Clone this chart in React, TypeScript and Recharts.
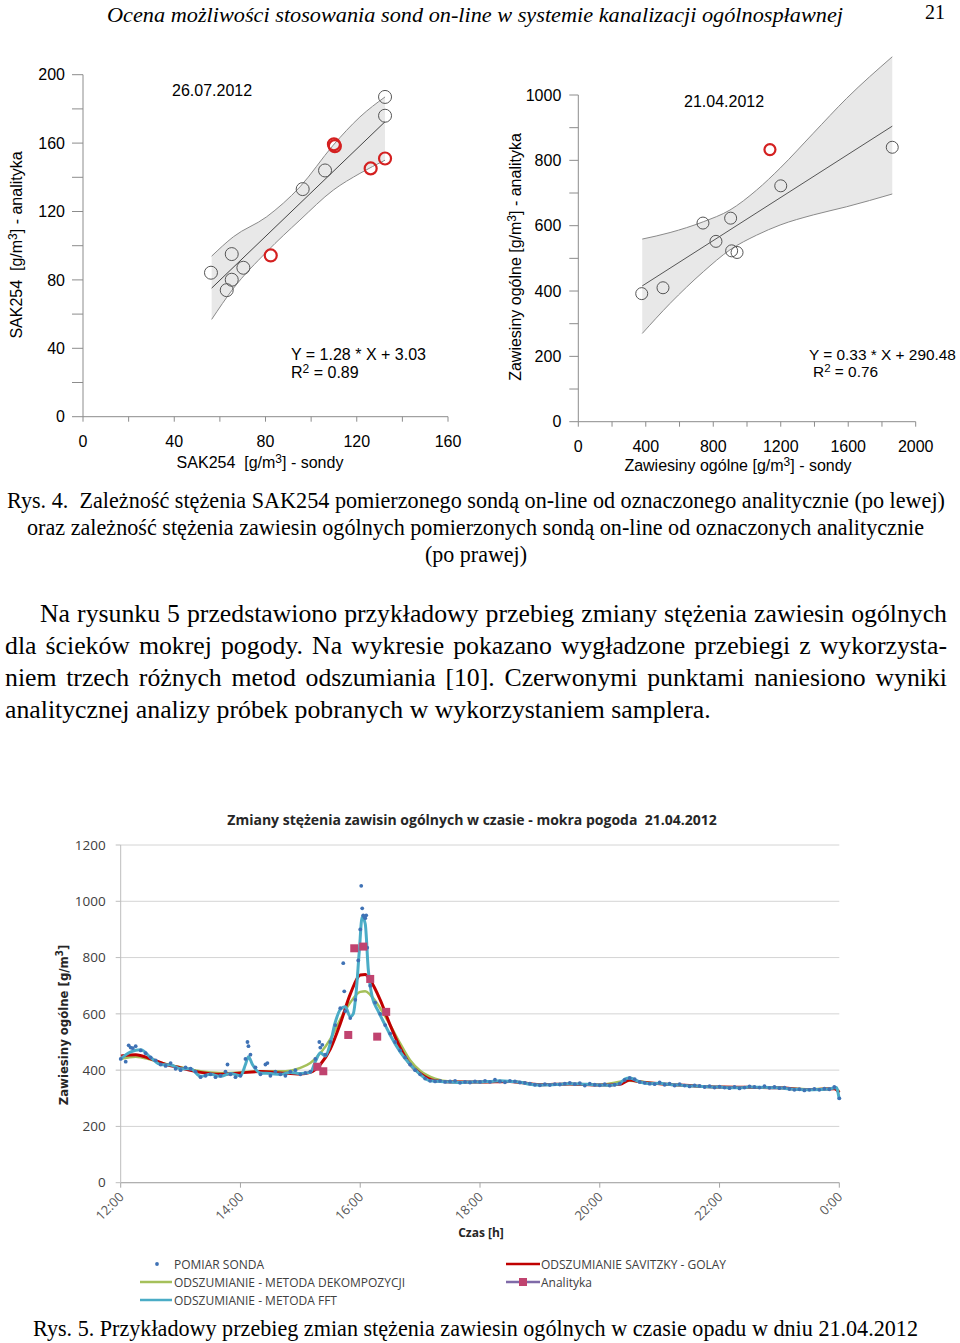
import React, { useLayoutEffect, useRef, useState } from 'react'
import { ComposedChart, Line, Area, Scatter, XAxis, YAxis, CartesianGrid, ReferenceLine } from 'recharts'

// ---- Rys. 4 (left): SAK254, probe vs lab
const sakProbeGray = [56.1, 65.2, 70.3, 65.2, 63, 96.3, 106.1, 132.4, 132.4]
const sakLabGray = [84.2, 95.1, 87.1, 80.1, 74, 133.1, 144, 187, 176]
const sakProbeRed = [82.3, 110.0, 110.4, 126.1, 132.4]
const sakLabRed = [94.3, 159.3, 158.2, 145.2, 151]
const sakBandX = [56.4, 65.9, 80.5, 95.1, 109.7, 121.4, 132.4]
const sakBandHi = [93.9, 105.2, 116.9, 134.4, 158.8, 175.3, 187]
const sakBandLo = [56.9, 75, 96.4, 115, 132.5, 142.3, 150]
const sakFitX = [56.4, 132.4]
const sakFitY = [75.2, 172.5]

// ---- Rys. 4 (right): zawiesiny ogolne, probe vs lab
const tssProbeGray = [376, 502, 739, 816, 903, 909, 941, 1200, 1861]
const tssLabGray = [392, 410, 608, 552, 623, 523, 518, 722, 840]
const tssProbeRed = [1136]
const tssLabRed = [833]
const tssBandX = [379, 544, 741, 899, 1057, 1196, 1393, 1591, 1861]
const tssBandHi = [559, 579, 612, 648, 709, 776, 883, 990, 1117]
const tssBandLo = [270, 362, 459, 526, 571, 602, 633, 658, 697]
const tssFitX = [379, 1861]
const tssFitY = [415.6, 904.6]

// ---- Rys. 5: time series 21.04.2012
const SONDA_START_H = 12
const SONDA_STEP_MIN = 5
const sondaVal = [
  440, 430, 480, 485, 470, 460, 445, 435, 420, 415, 425, 405,
  400, 410, 405, 395, 375, 380, 385, 375, 380, 395, 385, 375,
  380, 440, 455, 410, 385, 420, 380, 395, 385, 380, 395, 400,
  385, 390, 395, 440, 480, 455, 500, 560, 620, 610, 585, 650,
  900, 940, 700, 640, 600, 560, 530, 500, 470, 445, 420, 400,
  385, 370, 362, 360, 362, 358, 360, 362, 355, 358, 356, 360,
  358, 362, 358, 366, 360, 357, 362, 360, 356, 355, 352, 348,
  346, 350, 347, 350, 349, 352, 355, 350, 354, 345, 352, 348,
  346, 350, 345, 348, 352, 365, 372, 368, 358, 355, 352, 350,
  356, 348, 352, 345, 350, 345, 342, 346, 344, 340, 343, 338,
  341, 338, 336, 340, 335, 338, 342, 340, 338, 343, 337, 340,
  336, 338, 333, 330, 332, 328, 330, 333, 330, 334, 332, 340,
  300,
]
const sondaExtraTime = ['12:08', '12:12', '13:47', '14:07', '14:08', '14:27', '15:19', '15:22', '15:43', '15:44', '15:58', '16:01', '16:02', '16:03', '16:04', '16:06', '16:07']
const sondaExtraVal = [488, 478, 420, 500, 485, 425, 500, 490, 780, 680, 790, 1055, 975, 950, 945, 950, 835]

const fftTime = [
  '12:00', '12:10', '12:20', '12:30', '12:40', '12:50', '13:00', '13:10', '13:20', '13:30', '13:40', '13:50',
  '14:00', '14:05', '14:08', '14:12', '14:20', '14:30', '14:40', '14:50', '15:00', '15:10', '15:15', '15:20',
  '15:25', '15:30', '15:35', '15:40', '15:45', '15:50', '15:53', '15:56', '15:59', '16:02', '16:05', '16:08',
  '16:12', '16:18', '16:25', '16:30', '16:40', '16:50', '17:00', '17:10', '17:20', '17:30', '17:40', '17:50',
  '18:00', '18:10', '18:20', '18:30', '18:40', '18:50', '19:00', '19:10', '19:20', '19:30', '19:40', '19:50',
  '20:00', '20:10', '20:20', '20:25', '20:30', '20:40', '20:50', '21:00', '21:10', '21:20', '21:30', '21:40',
  '21:50', '22:00', '22:10', '22:20', '22:30', '22:40', '22:50', '23:00', '23:10', '23:20', '23:30', '23:40',
  '23:50', '23:57', '24:00',
]
const fftVal = [
  440, 465, 472, 445, 420, 418, 405, 405, 378, 385, 378, 388,
  380, 420, 448, 420, 390, 388, 385, 392, 388, 392, 430, 462,
  450, 495, 570, 615, 625, 590, 600, 680, 820, 945, 920, 760,
  660, 610, 560, 525, 465, 420, 385, 362, 360, 358, 356, 358,
  358, 360, 362, 360, 357, 350, 347, 348, 350, 352, 351, 349,
  347, 346, 352, 368, 372, 358, 352, 353, 349, 347, 344, 343,
  340, 340, 337, 337, 340, 339, 338, 337, 333, 331, 330, 331,
  333, 338, 295,
]

const sgTime = [
  '12:00', '12:15', '12:30', '12:45', '13:00', '13:20', '13:40', '14:00', '14:20', '14:40', '15:00', '15:10',
  '15:20', '15:30', '15:40', '15:50', '16:00', '16:05', '16:10', '16:20', '16:30', '16:40', '16:50', '17:00',
  '17:15', '17:30', '18:00', '18:30', '19:00', '19:30', '20:00', '20:20', '20:30', '20:40', '21:00', '21:30',
  '22:00', '22:30', '23:00', '23:30', '23:55', '24:00',
]
const sgVal = [
  450, 455, 440, 420, 408, 392, 385, 390, 395, 390, 386, 392,
  420, 475, 565, 670, 738, 740, 720, 650, 560, 480, 420, 388,
  362, 358, 358, 360, 348, 351, 347, 350, 365, 358, 352, 345,
  340, 339, 337, 331, 334, 320,
]

const dekTime = [
  '12:00', '12:15', '12:30', '12:45', '13:00', '13:20', '13:40', '14:00', '14:20', '14:40', '14:50', '15:00',
  '15:10', '15:20', '15:30', '15:40', '15:50', '16:00', '16:05', '16:10', '16:20', '16:30', '16:40', '16:50',
  '17:00', '17:15', '17:30', '18:00', '18:30', '19:00', '19:30', '20:00', '20:30', '21:00', '21:30', '22:00',
  '22:30', '23:00', '23:30', '23:55', '24:00',
]
const dekVal = [
  440, 448, 438, 422, 410, 396, 390, 392, 396, 396, 398, 408,
  425, 460, 510, 580, 640, 678, 680, 668, 620, 560, 495, 435,
  398, 370, 360, 358, 360, 349, 351, 348, 362, 352, 345, 340,
  339, 337, 332, 335, 325,
]

const labTime = ['15:17', '15:23', '15:48', '15:54', '16:03', '16:10', '16:17', '16:26']
const labVal = [412, 396, 525, 833, 839, 724, 519, 607]

const hourTicks = [12, 14, 16, 18, 20, 22, 24]
const legendLeft = ['POMIAR SONDA', 'ODSZUMIANIE - METODA DEKOMPOZYCJI', 'ODSZUMIANIE - METODA FFT']
const legendRight = ['ODSZUMIANIE SAVITZKY - GOLAY', 'Analityka']

const toH = (s: string) => {
  const [h, m] = s.split(':').map(Number)
  return h + m / 60
}
const pairs = (xs: number[], ys: number[]) => xs.map((x, i) => ({ x, y: ys[i] }))
const band = (xs: number[], lo: number[], hi: number[]) =>
  xs.map((x, i) => ({ x, lo: lo[i], hi: hi[i], range: [lo[i], hi[i]] }))
const steps = (max: number, step: number) => Array.from({ length: max / step + 1 }, (_, i) => i * step)

const SANS = '"Liberation Sans", Arial, sans-serif'
const SERIF = '"Liberation Serif", "Times New Roman", serif'
const CALIBRI = '"Open Sans", "Liberation Sans", sans-serif'

const ring = (stroke: string, width: number, r: number) => (p: any) =>
  <circle cx={p.cx} cy={p.cy} r={r} fill="none" stroke={stroke} strokeWidth={width} />

function Sup({ children }: { children: React.ReactNode }) {
  return <sup style={{ fontSize: '0.75em', verticalAlign: '0.45em', lineHeight: 0 }}>{children}</sup>
}

// one line of page text. fit: stretched to w; otherwise scaled by sx and justified to w with word spacing
function TextLine({ x, y, w, size, text, italic, fit, sx = 1 }: { x: number; y: number; w?: number; size: number; text: string; italic?: boolean; fit?: boolean; sx?: number }) {
  const ref = useRef<HTMLSpanElement>(null)
  const [ws, setWs] = useState(0)
  const [scale, setScale] = useState(sx)
  useLayoutEffect(() => {
    if (!ref.current || !w) return
    const natural = ref.current.getBoundingClientRect().width / sx
    if (fit) {
      setScale(w / natural)
      return
    }
    const spaces = (text.match(/ /g) || []).length
    if (spaces) setWs((w / sx - natural) / spaces)
  }, [w, text, fit, sx])
  return (
    <span
      ref={ref}
      style={{
        position: 'absolute', left: x, top: y - size * 0.55, fontSize: size, lineHeight: 1,
        fontFamily: SERIF, fontStyle: italic ? 'italic' : 'normal', whiteSpace: 'pre',
        wordSpacing: ws, transform: `scaleX(${scale})`, transformOrigin: 'left center', color: '#000',
      }}
    >
      {text}
    </span>
  )
}

function Note({ x, y, size = 16, family = SANS, center, rotate, bold, color = '#000', children }: any) {
  let t = 'translateY(-50%)'
  if (center) t = 'translate(-50%, -50%)'
  if (rotate) t = 'translate(-50%, -50%) rotate(-90deg)'
  return (
    <div style={{ position: 'absolute', left: x, top: y, transform: t, whiteSpace: 'nowrap', fontSize: size, fontFamily: family, lineHeight: 1, fontWeight: bold ? 700 : 400, color }}>
      {children}
    </div>
  )
}

const axisTick = { fill: '#000', fontSize: 16, fontFamily: SANS }

function SakChart() {
  return (
    <ComposedChart width={470} height={450} margin={{ top: 34.7, right: 22, bottom: 43.3, left: 23 }}>
      <XAxis type="number" dataKey="x" domain={[0, 160]} ticks={steps(160, 20)} interval={0}
        tickFormatter={(v: number) => (v % 40 === 0 ? String(v) : '')} tickSize={5} tickMargin={14} height={30}
        stroke="#8c8c8c" tick={axisTick} />
      <YAxis type="number" domain={[0, 200]} ticks={steps(200, 20)} interval={0}
        tickFormatter={(v: number) => (v % 40 === 0 ? String(v) : '')} tickSize={11} tickMargin={7} width={60}
        stroke="#8c8c8c" tick={axisTick} />
      <Area data={band(sakBandX, sakBandLo, sakBandHi)} dataKey="range" type="monotone" fill="#e8e8e8" fillOpacity={1} stroke="none" isAnimationActive={false} />
      <Line data={band(sakBandX, sakBandLo, sakBandHi)} dataKey="hi" type="monotone" stroke="#8a8a8a" strokeWidth={1} dot={false} activeDot={false} isAnimationActive={false} />
      <Line data={band(sakBandX, sakBandLo, sakBandHi)} dataKey="lo" type="monotone" stroke="#8a8a8a" strokeWidth={1} dot={false} activeDot={false} isAnimationActive={false} />
      <Line data={pairs(sakFitX, sakFitY)} dataKey="y" type="linear" stroke="#444" strokeWidth={1} dot={false} activeDot={false} isAnimationActive={false} />
      <Scatter data={pairs(sakProbeGray, sakLabGray)} dataKey="y" shape={ring('#555', 1, 6.5)} isAnimationActive={false} />
      <Scatter data={pairs(sakProbeRed, sakLabRed)} dataKey="y" shape={ring('#d42020', 2.2, 6)} isAnimationActive={false} />
    </ComposedChart>
  )
}

function TssChart() {
  return (
    <ComposedChart width={470} height={450} margin={{ top: 15.8, right: 34.3, bottom: 38.3, left: 38.3 }}>
      <XAxis type="number" dataKey="x" domain={[0, 2000]} ticks={steps(2000, 200)} interval={0}
        tickFormatter={(v: number) => (v % 400 === 0 ? String(v) : '')} tickSize={5} tickMargin={14} height={30}
        stroke="#8c8c8c" tick={axisTick} />
      <YAxis type="number" domain={[0, 1120]} ticks={steps(1000, 100)} interval={0} axisLine={false}
        tickFormatter={(v: number) => (v % 200 === 0 ? String(v) : '')} tickSize={9} tickMargin={8} width={60}
        stroke="#8c8c8c" tick={axisTick} />
      <ReferenceLine segment={[{ x: 0, y: 0 }, { x: 0, y: 1000 }]} stroke="#8c8c8c" />
      <Area data={band(tssBandX, tssBandLo, tssBandHi)} dataKey="range" type="monotone" fill="#e8e8e8" fillOpacity={1} stroke="none" isAnimationActive={false} />
      <Line data={band(tssBandX, tssBandLo, tssBandHi)} dataKey="hi" type="monotone" stroke="#8a8a8a" strokeWidth={1} dot={false} activeDot={false} isAnimationActive={false} />
      <Line data={band(tssBandX, tssBandLo, tssBandHi)} dataKey="lo" type="monotone" stroke="#8a8a8a" strokeWidth={1} dot={false} activeDot={false} isAnimationActive={false} />
      <Line data={pairs(tssFitX, tssFitY)} dataKey="y" type="linear" stroke="#555" strokeWidth={1} dot={false} activeDot={false} isAnimationActive={false} />
      <Scatter data={pairs(tssProbeGray, tssLabGray)} dataKey="y" shape={ring('#555', 1, 6)} isAnimationActive={false} />
      <Scatter data={pairs(tssProbeRed, tssLabRed)} dataKey="y" shape={ring('#d42020', 2.2, 5.5)} isAnimationActive={false} />
    </ComposedChart>
  )
}

const TimeTick = ({ x, y, payload }: any) => (
  <text x={x + 4} y={y + 8} textAnchor="end" fontSize={13} fill="#595959" fontFamily={CALIBRI}
    transform={`rotate(-45 ${x + 4} ${y + 8})`}>
    {`${payload.value % 24}:00`}
  </text>
)

function SeriesChart() {
  const sonda = [
    ...sondaVal.map((v, i) => ({ t: SONDA_START_H + (i * SONDA_STEP_MIN) / 60, v })),
    ...sondaExtraTime.map((s, i) => ({ t: toH(s), v: sondaExtraVal[i] })),
  ]
  const series = (ts: string[], vs: number[]) => ts.map((s, i) => ({ t: toH(s), v: vs[i] }))
  return (
    <ComposedChart width={900} height={440} margin={{ top: 55, right: 60.7, bottom: 7.3, left: 60.7 }}>
      <CartesianGrid vertical={false} stroke="#d4d4d4" />
      <XAxis type="number" dataKey="t" domain={[12, 24]} ticks={hourTicks} interval={0} tick={<TimeTick />}
        tickSize={5} height={40} stroke="#a6a6a6" />
      <YAxis type="number" domain={[0, 1200]} ticks={steps(1200, 200)} interval={0} width={60} tickSize={5}
        tickMargin={10} stroke="#bdbdbd" tick={{ fill: '#404040', fontSize: 13.5, fontFamily: CALIBRI }} />
      <Line data={series(dekTime, dekVal)} dataKey="v" type="monotone" stroke="#a5c05a" strokeWidth={2.5} dot={false} activeDot={false} isAnimationActive={false} />
      <Line data={series(sgTime, sgVal)} dataKey="v" type="monotone" stroke="#c00000" strokeWidth={3} dot={false} activeDot={false} isAnimationActive={false} />
      <Scatter data={sonda} dataKey="v" shape={(p: any) => <circle cx={p.cx} cy={p.cy} r={1.9} fill="#3f72b5" />} isAnimationActive={false} />
      <Line data={series(fftTime, fftVal)} dataKey="v" type="monotone" stroke="#4bacc6" strokeWidth={3} dot={false} activeDot={false} isAnimationActive={false} />
      <Scatter data={series(labTime, labVal)} dataKey="v" shape={(p: any) => <rect x={p.cx - 4} y={p.cy - 4} width={8} height={8} fill="#c0436f" />} isAnimationActive={false} />
    </ComposedChart>
  )
}

function SeriesLegend() {
  const colors = ['#a5c05a', '#4bacc6']
  return (
    <svg width={960} height={60} style={{ position: 'absolute', left: 0, top: 1250 }}>
      <g fontFamily={CALIBRI} fontSize={12} fill="#404040">
        <circle cx={157} cy={14} r={1.9} fill="#3f72b5" />
        <text x={174} y={14} dominantBaseline="central">{legendLeft[0]}</text>
        {legendLeft.slice(1).map((s, i) => (
          <g key={s}>
            <line x1={140} x2={172} y1={32 + i * 18} y2={32 + i * 18} stroke={colors[i]} strokeWidth={2.5} />
            <text x={174} y={32 + i * 18} dominantBaseline="central">{s}</text>
          </g>
        ))}
        <line x1={506} x2={540} y1={14} y2={14} stroke="#c00000" strokeWidth={2.5} />
        <text x={541} y={14} dominantBaseline="central">{legendRight[0]}</text>
        <line x1={506} x2={540} y1={32} y2={32} stroke="#7f6aa8" strokeWidth={2.5} />
        <rect x={519} y={28} width={8} height={8} fill="#c0436f" />
        <text x={541} y={32} dominantBaseline="central">{legendRight[1]}</text>
      </g>
    </svg>
  )
}

const PARA_SX = 1.03

export default function App() {
  return (
    <div style={{ position: 'absolute', left: 0, top: 0, width: 960, height: 1343, background: '#fff', overflow: 'hidden' }}>
      <TextLine x={107} y={16} w={736} size={22} italic fit text="Ocena możliwości stosowania sond on-line w systemie kanalizacji ogólnospławnej" />
      <TextLine x={925} y={13} w={20} size={22} fit text="21" />

      <div style={{ position: 'absolute', left: 0, top: 40 }}><SakChart /></div>
      <div style={{ position: 'absolute', left: 480, top: 40 }}><TssChart /></div>

      <Note x={172} y={91}>26.07.2012</Note>
      <Note x={291} y={355}>Y = 1.28 * X + 3.03</Note>
      <Note x={291} y={373}>R<Sup>2</Sup> = 0.89</Note>
      <Note x={260} y={463} center>SAK254&nbsp; [g/m<Sup>3</Sup>] - sondy</Note>
      <Note x={17} y={245} rotate>SAK254&nbsp; [g/m<Sup>3</Sup>] - analityka</Note>

      <Note x={684} y={102}>21.04.2012</Note>
      <Note x={809} y={355} size={15.4}>Y = 0.33 * X + 290.48</Note>
      <Note x={813} y={372} size={15.4}>R<Sup>2</Sup> = 0.76</Note>
      <Note x={738} y={466} center>Zawiesiny ogólne [g/m<Sup>3</Sup>] - sondy</Note>
      <Note x={516} y={257} rotate>Zawiesiny ogólne [g/m<Sup>3</Sup>] - analityka</Note>

      <TextLine x={7} y={502} w={938} size={22.5} fit text="Rys. 4.  Zależność stężenia SAK254 pomierzonego sondą on-line od oznaczonego analitycznie (po lewej)" />
      <TextLine x={27} y={529} w={897} size={22.5} fit text="oraz zależność stężenia zawiesin ogólnych pomierzonych sondą on-line od oznaczonych analitycznie" />
      <TextLine x={425} y={556} w={102} size={22.5} fit text="(po prawej)" />

      <TextLine x={40} y={615} w={907} size={25} sx={PARA_SX} text="Na rysunku 5 przedstawiono przykładowy przebieg zmiany stężenia zawiesin ogólnych" />
      <TextLine x={5} y={647} w={942} size={25} sx={PARA_SX} text="dla ścieków mokrej pogody. Na wykresie pokazano wygładzone przebiegi z wykorzysta-" />
      <TextLine x={5} y={679} w={942} size={25} sx={PARA_SX} text="niem trzech różnych metod odszumiania [10]. Czerwonymi punktami naniesiono wyniki" />
      <TextLine x={5} y={711} size={25} sx={PARA_SX} text="analitycznej analizy próbek pobranych w wykorzystaniem samplera." />

      <div style={{ position: 'absolute', left: 0, top: 790 }}><SeriesChart /></div>
      <Note x={472} y={820} center bold size={14} family={CALIBRI} color="#262626">
        Zmiany stężenia zawisin ogólnych w czasie - mokra pogoda&nbsp; 21.04.2012
      </Note>
      <Note x={63} y={1025} rotate bold size={13} family='"Liberation Sans Narrow", "DejaVu Sans Condensed", sans-serif' color="#262626">
        Zawiesiny ogólne [g/m<Sup>3</Sup>]
      </Note>
      <Note x={481} y={1233} center bold size={12} family={CALIBRI} color="#262626">Czas [h]</Note>
      <SeriesLegend />

      <TextLine x={33} y={1330} w={885} size={22.5} fit text="Rys. 5. Przykładowy przebieg zmian stężenia zawiesin ogólnych w czasie opadu w dniu 21.04.2012" />
    </div>
  )
}
